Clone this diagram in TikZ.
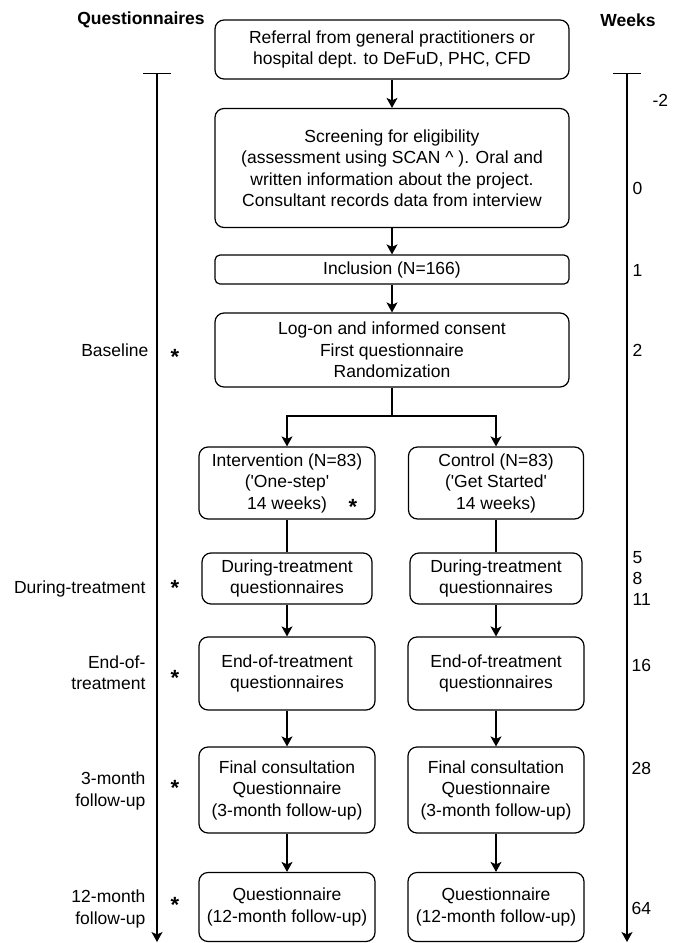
\documentclass[tikz,border=0pt]{standalone}
\usepackage{fontspec}
\setmainfont{Liberation Sans}
\usetikzlibrary{arrows.meta}

\begin{document}
\begin{tikzpicture}[x=1pt,y=-1pt,line width=1.2pt,
    font=\fontsize{17.5}{21.5}\selectfont,
    tip/.style={-{Stealth[length=10pt,width=11pt,inset=2.5pt]}}]
\useasboundingbox (0,0) rectangle (673,943);

% headings
\node[font=\fontsize{17.5}{21.5}\selectfont\bfseries] (qhead) at (141,20) {Questionnaires};
\node[font=\fontsize{17.5}{21.5}\selectfont\bfseries] (whead) at (628,20) {Weeks};

% boxes
\begin{scope}[every node/.style={draw,rounded corners=9pt,align=center,inner sep=0pt}]
    \node[minimum width=354pt,minimum height=59pt] (refer) at (392,49.5)
        {Referral from general practitioners or\\hospital dept. to DeFuD, PHC, CFD};
    \node[minimum width=354pt,minimum height=119pt] (screen) at (392,168)
        {Screening for eligibility\\(assessment using SCAN \^{} ). Oral and\\written information about the project.\\Consultant records data from interview};
    \node[minimum width=354pt,minimum height=29pt,rounded corners=5pt] (incl) at (392,269.5) {Inclusion (N=166)};
    \node[minimum width=354pt,minimum height=74pt] (logon) at (392,350)
        {Log-on and informed consent\\First questionnaire\\Randomization};
    \node[minimum width=176pt,minimum height=72pt] (interv) at (287,483)
        {Intervention (N=83)\\(\textquotesingle One-step\textquotesingle\\14 weeks)};
    \node[minimum width=175pt,minimum height=72pt] (contr) at (496,483)
        {Control (N=83)\\(\textquotesingle Get Started\textquotesingle\\14 weeks)};
    \node[minimum width=170pt,minimum height=51pt] (durL) at (287,578.5)
        {During-treatment\\questionnaires};
    \node[minimum width=172pt,minimum height=51pt] (durR) at (496,578.5)
        {During-treatment\\questionnaires};
    \node[minimum width=176pt,minimum height=73pt] (endL) at (287,673.5)
        {End-of-treatment\\questionnaires};
    \node[minimum width=176pt,minimum height=73pt] (endR) at (496,673.5)
        {End-of-treatment\\questionnaires};
    \node[minimum width=176pt,minimum height=86pt] (finL) at (287,790)
        {Final consultation\\Questionnaire\\(3-month follow-up)};
    \node[minimum width=176pt,minimum height=86pt] (finR) at (496,790)
        {Final consultation\\Questionnaire\\(3-month follow-up)};
    \node[minimum width=176pt,minimum height=69pt] (yearL) at (287,907)
        {Questionnaire\\(12-month follow-up)};
    \node[minimum width=176pt,minimum height=69pt] (yearR) at (496,907)
        {Questionnaire\\(12-month follow-up)};
\end{scope}

% connectors
\coordinate (split) at (392,416);
\begin{scope}[every edge/.style={draw,tip}]
    \path (refer) edge (screen);
    \path (screen) edge (incl);
    \path (incl) edge (logon);
    \path (interv) edge[-] (durL);
    \path (contr) edge[-] (durR);
    \path (durL) edge (endL);
    \path (durR) edge (endR);
    \path (endL) edge (finL);
    \path (endR) edge (finR);
    \path (finL) edge (yearL);
    \path (finR) edge (yearR);
\end{scope}
\draw (logon) -- (split);
\draw[tip] (split) -| (interv.north);
\draw[tip] (split) -| (contr.north);

% time lines
\coordinate (qtop) at (157,73);
\coordinate (qend) at (157,942);
\coordinate (wtop) at (627,73);
\coordinate (wend) at (627,942);
\draw[{Bar[width=28pt]}-{Stealth[length=10pt,width=11pt,inset=2.5pt]}] (qtop) -- (qend);
\draw[{Bar[width=28pt]}-{Stealth[length=10pt,width=11pt,inset=2.5pt]}] (wtop) -- (wend);

% questionnaire moments
\begin{scope}[every node/.style={anchor=east,align=right,inner sep=0pt}]
    \node (lbase) at (149,350) {Baseline};
    \node (ldur) at (146,589) {During-treatment};
    \node (lend) at (146,672.5) {End-of-\\treatment};
    \node (lthree) at (146,791) {3-month\\follow-up};
    \node (ltwelve) at (146,909) {12-month\\follow-up};
\end{scope}
\begin{scope}[every node/.style={inner sep=0pt,font=\fontsize{22}{22}\selectfont\bfseries}]
    \node (sbase) at (175,357) {*};
    \node (sdur) at (175,588) {*};
    \node (send) at (175,678) {*};
    \node (sthree) at (175,788) {*};
    \node (stwelve) at (175,905) {*};
    \node (sinterv) at (353,507) {*};
\end{scope}

% weeks
\begin{scope}[every node/.style={anchor=west,inner sep=0pt}]
    \node (wminus) at (652,100) {-2};
    \node (wzero) at (632,188) {0};
    \node (wone) at (632,270) {1};
    \node (wtwo) at (632,350) {2};
    \node[align=left,font=\fontsize{17.5}{21}\selectfont] (wdur) at (632,578) {5\\8\\11};
    \node (wsixteen) at (631,665) {16};
    \node (wtwentyeight) at (631,768) {28};
    \node (wsixtyfour) at (631,908) {64};
\end{scope}
\end{tikzpicture}
\end{document}
